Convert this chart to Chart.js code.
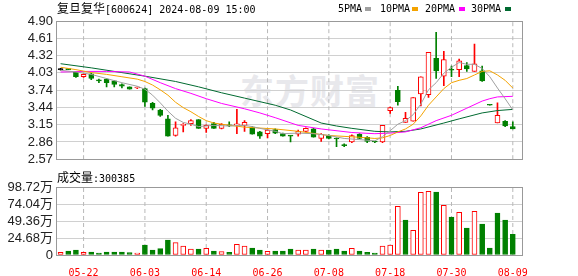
<!DOCTYPE html>
<html>
<head>
<meta charset="utf-8">
<script src="https://cdn.jsdelivr.net/npm/chart.js@4.4.1/dist/chart.umd.min.js"></script>
<style>
  body { margin: 0; background: #fff; }
  #wrap { position: relative; width: 578px; height: 276px; overflow: hidden; }
  canvas { position: absolute; left: 0; }
  .lbl { position: absolute; white-space: nowrap; line-height: 14px; color: #000; }
  .cjk { font-family: 'Noto Sans CJK SC'; font-size: 12px; }
  .mono { font-family: 'DejaVu Sans Mono'; font-size: 10px; }
  .box { position: absolute; width: 6px; height: 4px; }
  #wm { position: absolute; left: 240px; top: 70px; font-family: 'Noto Sans CJK SC'; font-weight: bold;
        font-size: 34px; line-height: 40px; color: #e8e8ec; letter-spacing: 1px; }
</style>
</head>
<body>
<div id="wrap">
  <div id="wm">东方财富</div>
  <canvas id="price" width="578" height="170" style="top:0"></canvas>
  <canvas id="vol" width="578" height="106" style="top:170px"></canvas>

  <div class="lbl" style="left:57px; top:1px"><span class="cjk">复旦复华</span><span class="mono">[600624] 2024-08-09 15:00</span></div>

  <div class="lbl mono" style="left:338px; top:2px">5PMA</div>
  <div class="box" style="left:365px; top:7px; background:#a0a0a0"></div>
  <div class="lbl mono" style="left:380px; top:2px">10PMA</div>
  <div class="box" style="left:412px; top:7px; background:#f4a300"></div>
  <div class="lbl mono" style="left:425px; top:2px">20PMA</div>
  <div class="box" style="left:459px; top:7px; background:#ff00ff"></div>
  <div class="lbl mono" style="left:471px; top:2px">30PMA</div>
  <div class="box" style="left:505px; top:7px; background:#006a30"></div>

  <div class="lbl" style="left:57px; top:170px"><span class="cjk">成交量</span><span class="mono">:300385</span></div>
</div>
<script>
// x 轴日期
var dates = ['05-22', '06-03', '06-14', '06-26', '07-08', '07-18', '07-30', '08-09'];
var dateIdx = [3, 11, 19, 27, 35, 43, 51, 59];

// K线 (05-17 .. 08-09)
var open  = [4.08, 4.09, 4.04, 3.96, 4.01, 3.90, 3.92, 3.89, 3.83, 3.79, 3.77, 3.76, 3.51, 3.40, 3.25,
             2.97, 3.14, 3.17, 3.24, 3.09, 3.17, 3.09, 3.15, 3.15, 3.14, 3.11, 3.03, 3.00, 3.07, 3.00,
             2.97, 2.99, 3.04, 3.08, 2.92, 2.97, 2.92, 2.81, 2.86, 2.99, 2.94, 2.87, 2.86, 3.39, 3.73,
             3.19, 3.21, 3.67, 3.66, 4.27, 3.97, 4.08, 4.08, 4.15, 4.05, 4.06, 3.49, 3.18, 3.21, 3.12];
var high  = [4.10, 4.10, 4.04, 4.01, 4.02, 3.92, 3.93, 3.90, 3.84, 3.79, 3.79, 3.77, 3.53, 3.41, 3.31,
             3.20, 3.17, 3.24, 3.24, 3.15, 3.19, 3.17, 3.20, 3.41, 3.22, 3.12, 3.04, 3.07, 3.08, 3.01,
             2.97, 3.06, 3.10, 3.09, 3.00, 2.98, 2.93, 2.83, 2.98, 3.00, 2.95, 2.87, 3.14, 3.45, 3.80,
             3.36, 3.61, 3.96, 4.37, 4.71, 4.39, 4.14, 4.26, 4.20, 4.51, 4.14, 3.49, 3.52, 3.22, 3.20];
var low   = [4.07, 4.08, 3.95, 3.95, 3.91, 3.86, 3.79, 3.79, 3.77, 3.75, 3.76, 3.46, 3.40, 3.29, 2.96,
             2.96, 3.03, 3.14, 3.09, 3.02, 3.09, 3.08, 3.12, 3.00, 3.04, 2.99, 2.92, 2.93, 3.00, 2.96,
             2.86, 2.96, 3.03, 2.94, 2.87, 2.91, 2.78, 2.78, 2.85, 2.91, 2.85, 2.85, 2.85, 3.34, 3.48,
             3.19, 3.21, 3.47, 3.61, 3.93, 3.81, 3.96, 3.96, 4.05, 4.05, 3.88, 3.48, 3.18, 3.12, 3.08];
var close = [4.08, 4.08, 3.96, 4.00, 3.93, 3.89, 3.86, 3.83, 3.80, 3.75, 3.78, 3.53, 3.43, 3.31, 2.96,
             3.10, 3.16, 3.22, 3.09, 3.14, 3.09, 3.16, 3.13, 3.16, 3.19, 2.99, 2.96, 3.06, 3.01, 2.96,
             2.96, 3.04, 3.09, 2.94, 2.99, 2.92, 2.91, 2.80, 2.97, 2.92, 2.87, 2.86, 3.14, 3.44, 3.54,
             3.26, 3.61, 3.96, 4.37, 4.06, 4.25, 4.07, 4.23, 4.09, 4.18, 3.89, 3.48, 3.31, 3.13, 3.08];

// 成交量 (万股), 1 = 红
var volume = [3.9, 5.8, 7.3, 3.9, 4.4, 2.9, 4.4, 4.4, 4.4, 3.4, 2.9, 14.5, 7.3, 9.2, 21.8,
              17.9, 13.1, 8.7, 8.7, 9.7, 5.8, 4.8, 3.9, 15.5, 13.1, 10.2, 7.3, 5.3, 5.8, 5.8,
              8.7, 7.3, 7.3, 8.7, 7.3, 7.3, 8.7, 5.8, 9.7, 5.8, 3.9, 2.9, 13.1, 14.5, 70.7,
              50.8, 35.8, 91.0, 92.5, 91.5, 72.1, 55.2, 62.0, 39.2, 63.4, 45.0, 10.2, 61.0, 50.8, 30.0];
var volUp = [1, 0, 0, 1, 0, 0, 0, 0, 0, 0, 1, 0, 0, 0, 0,
             1, 1, 1, 0, 1, 0, 1, 0, 1, 1, 0, 0, 1, 0, 0,
             0, 1, 1, 0, 1, 0, 0, 0, 1, 0, 0, 0, 1, 1, 1,
             0, 1, 1, 1, 0, 1, 0, 1, 0, 1, 0, 0, 0, 0, 0];

// 均线 [index, value]
var ma5 = [[0, 4.07], [2, 4.04], [4, 4.00], [6, 3.93], [8, 3.86], [10, 3.80], [11, 3.75], [12, 3.65],
           [13, 3.52], [14, 3.38], [15, 3.26], [16, 3.19], [17, 3.16], [18, 3.12], [20, 3.14], [22, 3.13],
           [24, 3.14], [25, 3.12], [26, 3.09], [28, 3.04], [29, 3.00], [31, 3.01], [33, 3.00], [35, 2.97],
           [37, 2.92], [39, 2.90], [41, 2.88], [42, 2.95], [43, 3.05], [44, 3.16], [45, 3.22], [46, 3.32],
           [47, 3.50], [48, 3.74], [49, 3.86], [50, 4.02], [51, 4.12], [52, 4.20], [53, 4.17], [54, 4.17],
           [55, 4.10], [56, 3.96], [57, 3.77], [58, 3.59], [59, 3.40]];
var ma10 = [[0, 4.12], [2, 4.08], [4, 4.03], [6, 4.00], [8, 3.96], [10, 3.92], [11, 3.88], [12, 3.82],
            [13, 3.74], [14, 3.65], [15, 3.53], [16, 3.44], [17, 3.37], [18, 3.29], [19, 3.22], [20, 3.18],
            [21, 3.16], [24, 3.11], [28, 3.08], [31, 3.04], [35, 2.97], [39, 2.94], [41, 2.92], [42, 2.93],
            [43, 2.97], [44, 3.03], [45, 3.08], [46, 3.16], [47, 3.30], [48, 3.48], [49, 3.62], [50, 3.76],
            [51, 3.86], [52, 3.90], [53, 3.93], [54, 3.99], [55, 4.05], [56, 4.06], [57, 3.99], [58, 3.90],
            [59, 3.77]];
var ma20 = [[0, 4.04], [3, 4.05], [6, 4.05], [9, 4.04], [11, 3.97], [13, 3.86], [15, 3.76], [17, 3.68],
            [19, 3.59], [21, 3.51], [24, 3.42], [26, 3.35], [28, 3.27], [31, 3.14], [34, 3.08], [38, 3.02],
            [41, 3.00], [43, 3.01], [45, 3.03], [47, 3.10], [49, 3.22], [51, 3.31], [53, 3.43], [55, 3.55],
            [56, 3.59], [57, 3.62], [59, 3.63]];
var ma30 = [[0, 4.18], [4, 4.11], [8, 4.03], [11, 3.97], [15, 3.88], [18, 3.79], [21, 3.69], [24, 3.60],
            [28, 3.48], [30, 3.40], [34, 3.18], [36, 3.13], [38, 3.09], [41, 3.04], [43, 3.03], [45, 3.04],
            [47, 3.08], [50, 3.18], [52, 3.25], [55, 3.35], [57, 3.39], [59, 3.41]];

var priceTicks = ['2.57', '2.86', '3.15', '3.44', '3.74', '4.03', '4.32', '4.61', '4.90'];
var volTicks = ['0', '24.68万', '49.36万', '74.04万', '98.72万'];

var RED = '#ff0000', GREEN = '#008000', FRAME = '#999999';

function candleColor(i) {
    if (close[i] > open[i]) return RED;
    if (close[i] < open[i]) return GREEN;
    return '#000';
}
var edge = open.map(function(o, i) { return candleColor(i); });
var fill = open.map(function(o, i) { return close[i] > open[i] ? '#fff' : candleColor(i); });

function maLine(list, color) {
    return {
        type: 'line', borderColor: color, borderWidth: 1, pointRadius: 0, fill: false, tension: 0, order: 0,
        data: list.map(function(p) { return { x: p[0], y: p[1] }; })
    };
}

// 日期处的竖虚线
function dateLines(min, max) {
    return dateIdx.map(function(v) {
        return {
            type: 'line', data: [{ x: v, y: min }, { x: v, y: max }],
            borderColor: '#b8b8b8', borderWidth: 1, borderDash: [4, 3], pointRadius: 0, order: 9
        };
    });
}

function xScale(showLabels, h) {
    return {
        type: 'linear', min: -0.6, max: 60.2, offset: false,
        afterBuildTicks: function(s) { s.ticks = dateIdx.map(function(v) { return { value: v }; }); },
        afterFit: function(s) { s.height = h; },
        grid: { display: false },
        border: { display: false },
        ticks: {
            display: showLabels, autoSkip: false, maxRotation: 0, padding: 4, color: RED,
            font: { family: 'DejaVu Sans Mono', size: 10 },
            callback: function(v, i) { return dates[i]; }
        }
    };
}
function yScale(min, max, labels) {
    return {
        min: min, max: max,
        afterBuildTicks: function(s) {
            s.ticks = labels.map(function(t, k) { return { value: min + k * (max - min) / (labels.length - 1) }; });
        },
        afterFit: function(s) { s.width = 56; },
        grid: {
            drawTicks: false,
            color: function(c) { return (c.index === 0 || c.index === labels.length - 1) ? FRAME : '#d0d0d0'; }
        },
        border: { display: true, color: FRAME },
        ticks: {
            autoSkip: false, padding: 3, color: '#222',
            font: { family: "'Liberation Sans', 'Noto Sans CJK SC'", size: 13 },
            callback: function(v, i) { return labels[i]; }
        }
    };
}
// 右侧边框
function rightEdge(min, max) {
    return {
        position: 'right', min: min, max: max,
        afterFit: function(s) { s.width = 0; },
        grid: { display: false, drawTicks: false },
        border: { display: true, color: FRAME },
        ticks: { display: false }
    };
}

var common = {
    responsive: false, animation: false, devicePixelRatio: 1,
    plugins: { legend: { display: false }, tooltip: { enabled: false } }
};

new Chart(document.getElementById('price'), {
    type: 'bar',
    data: {
        datasets: [
            maLine(ma5, '#a0a0a0'),
            maLine(ma10, '#f4a300'),
            maLine(ma20, '#ff00ff'),
            maLine(ma30, '#006a30'),
            {
                data: open.map(function(o, i) { return { x: i, y: [open[i], close[i]] }; }),
                backgroundColor: fill, borderColor: edge, borderWidth: 1, borderSkipped: false,
                barThickness: 5, minBarLength: 1, grouped: false, order: 1
            },
            {
                data: open.map(function(o, i) { return { x: i, y: [low[i], high[i]] }; }),
                backgroundColor: edge, borderWidth: 0, barThickness: 1, grouped: false, order: 2
            }
        ].concat(dateLines(2.57, 4.90))
    },
    options: Object.assign({}, common, {
        layout: { padding: { top: 21, right: 56, bottom: 5, left: 0 } },
        scales: { x: xScale(false, 0), y: yScale(2.57, 4.90, priceTicks), y2: rightEdge(2.57, 4.90) }
    })
});

new Chart(document.getElementById('vol'), {
    type: 'bar',
    data: {
        datasets: [{
            data: volume.map(function(v, i) { return { x: i, y: v }; }),
            backgroundColor: volUp.map(function(u) { return u ? '#fff' : GREEN; }),
            borderColor: volUp.map(function(u) { return u ? RED : GREEN; }),
            borderWidth: 1, borderSkipped: false, barThickness: 5, order: 1
        }].concat(dateLines(0, 98.72))
    },
    options: Object.assign({}, common, {
        layout: { padding: { top: 17, right: 56, bottom: 0, left: 0 } },
        scales: { x: xScale(true, 21), y: yScale(0, 98.72, volTicks), y2: rightEdge(0, 98.72) }
    })
});
</script>
</body>
</html>
